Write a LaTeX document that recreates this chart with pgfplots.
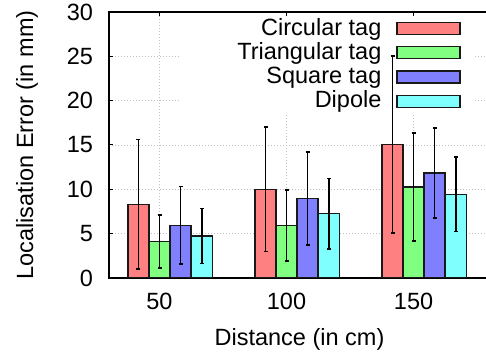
\documentclass[border=0pt]{standalone}
\usepackage{fontspec}
\setmainfont{Liberation Sans}
\usepackage{pgfplots}
\pgfplotsset{compat=1.18}

\definecolor{cred}{RGB}{255,128,128}
\definecolor{cgreen}{RGB}{128,255,128}
\definecolor{cblue}{RGB}{128,128,255}
\definecolor{ccyan}{RGB}{128,255,255}

\pgfplotsset{
  mybar/.style={ybar, bar width=8.27, bar shift=0pt, draw=black!90, line width=1.4bp,
    fill=#1,
    error bars/.cd, y dir=both, y explicit,
    error bar style={black, line width=1.6bp},
    error mark options={rotate=90, mark size=2bp, line width=1.6bp, black},
    /pgfplots/.cd,
    legend image code/.code={\draw[draw=black!90, fill=#1, line width=1.4bp] (0bp,-6bp) rectangle (63bp,6bp); \path (77bp,0bp);}
  }
}

\begin{document}
\fontsize{23.5bp}{28bp}\selectfont
\begin{tikzpicture}[font=\fontsize{23.5bp}{28bp}\selectfont]
\begin{axis}[
  at={(0,0)}, anchor=south west,
  scale only axis, width=381bp, height=266bp,
  xmin=30.12, xmax=180.1, ymin=0, ymax=30,
  xtick={50,100,150}, ytick={0,5,...,30},
  tick align=inside, major tick length=4bp,
  grid=major, grid style={gray!50, dash pattern=on 1bp off 2bp, line width=0.7bp},
  axis line style={line width=1.1bp, black},
  every tick/.style={black, line width=1bp},
  /pgf/number format/assume math mode=true,
  yticklabel style={xshift=-8bp},
  xticklabel style={yshift=-7bp},
  xlabel={Distance (in cm)}, ylabel={Localisation Error (in mm)},
  every axis x label/.style={at={(axis description cs:0.5,0)}, anchor=center, yshift=-61bp},
  every axis y label/.style={at={(axis description cs:-0.2152,0.5)}, anchor=center, rotate=90},
  legend plot pos=right,
  legend style={draw=none, fill=none, at={(axis description cs:0.9606,0.985)}, anchor=north east,
    inner sep=0pt, row sep=0pt, column sep=15bp, cells={anchor=east},
    nodes={inner sep=0pt, minimum height=24.3bp}},
  set layers,
]
\begin{pgfonlayer}{pre main}
\fill[white] (axis description cs:0.1864,0.985) rectangle (axis description cs:0.9606,0.62);
\end{pgfonlayer}

\addplot[mybar=cred] coordinates {
  (41.73,8.3) +- (0,7.3)
  (91.73,10.0) +- (0,7.0)
  (141.73,15.05) +- (0,10.0)
};
\addlegendentry{Circular tag}
\addplot[mybar=cgreen] coordinates {
  (50,4.1) +- (0,3.0)
  (100,5.95) +- (0,4.0)
  (150,10.26) +- (0,6.1)
};
\addlegendentry{Triangular tag}
\addplot[mybar=cblue] coordinates {
  (58.27,5.95) +- (0,4.35)
  (108.27,8.95) +- (0,5.25)
  (158.27,11.85) +- (0,5.1)
};
\addlegendentry{Square tag}
\addplot[mybar=ccyan] coordinates {
  (66.73,4.73) +- (0,3.1)
  (116.73,7.25) +- (0,3.95)
  (166.73,9.45) +- (0,4.2)
};
\addlegendentry{Dipole}
\end{axis}
\pgfresetboundingbox
\path[use as bounding box] (-109bp,-80bp) rectangle (377bp,278bp);
\end{tikzpicture}
\end{document}
